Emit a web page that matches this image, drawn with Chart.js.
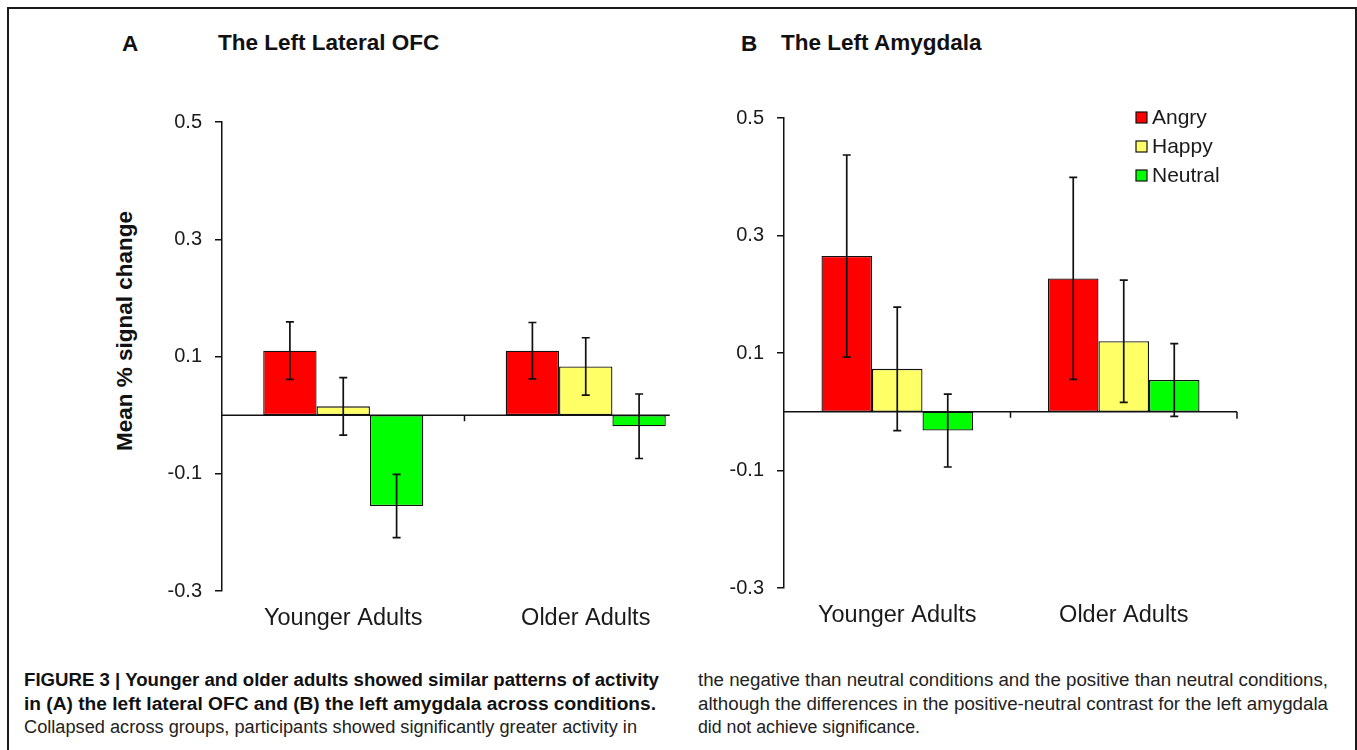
<!DOCTYPE html>
<html>
<head>
<meta charset="utf-8">
<script src="https://cdn.jsdelivr.net/npm/chart.js@4.4.1/dist/chart.umd.min.js"></script>
<style>
  html, body { margin: 0; padding: 0; background: #fff; overflow: hidden; }
  body { width: 1357px; height: 750px; position: relative; font-family: 'Liberation Sans', Arial, sans-serif; }
  .frame { position: absolute; left: 7px; top: 7px; width: 1346px; height: 800px; border: 2.5px solid #1a1a1a; }
  .abs { position: absolute; white-space: nowrap; }
  .panel-title { font-weight: bold; font-size: 22.5px; line-height: 24px; color: #111; }
  .ytitle { font-weight: bold; font-size: 22.5px; line-height: 24px; color: #111; transform: translate(-50%, -50%) rotate(-90deg); }
  .cap { font-family: 'Liberation Sans Narrow', 'Arial Narrow', 'Liberation Sans', Arial, sans-serif; font-size: 18px; line-height: 22px; color: #222; transform-origin: 0 50%; }
  .cap.b { font-weight: bold; color: #111; }
  canvas { position: absolute; }
</style>
</head>
<body>
<div class="frame"></div>

<div class="abs panel-title" style="left:122px; top:32px;">A</div>
<div class="abs panel-title" style="left:218px; top:31px;">The Left Lateral OFC</div>
<div class="abs panel-title" style="left:741px; top:32px;">B</div>
<div class="abs panel-title" style="left:781px; top:31px;">The Left Amygdala</div>
<div class="abs ytitle" style="left:125px; top:331px;">Mean % signal change</div>

<canvas id="chartA" width="620" height="568" style="left:100px; top:92px;"></canvas>
<canvas id="chartB" width="600" height="568" style="left:664px; top:88px;"></canvas>

<div class="abs cap b" data-w="635" style="left:24px; top:669px;">FIGURE 3 | Younger and older adults showed similar patterns of activity</div>
<div class="abs cap b" data-w="632" style="left:24px; top:693px;">in (A) the left lateral OFC and (B) the left amygdala across conditions.</div>
<div class="abs cap" data-w="613" style="left:24px; top:716px;">Collapsed across groups, participants showed significantly greater activity in</div>
<div class="abs cap" data-w="630" style="left:698px; top:669px;">the negative than neutral conditions and the positive than neutral conditions,</div>
<div class="abs cap" data-w="630" style="left:698px; top:693px;">although the differences in the positive-neutral contrast for the left amygdala</div>
<div class="abs cap" data-w="222" style="left:698px; top:716px;">did not achieve significance.</div>

<script>
// categories and conditions
const groups = ['Younger Adults', 'Older Adults'];
const conditions = ['Angry', 'Happy', 'Neutral'];
const condColors = ['#ff0000', '#ffff66', '#00ff00'];
const yTicks = [-0.3, -0.1, 0.1, 0.3, 0.5];

// (A) left lateral OFC, mean % signal change and error
const ofcAngry = [0.110, 0.110];
const ofcHappy = [0.015, 0.083];
const ofcNeutral = [-0.155, -0.019];
const ofcAngryErr = [0.049, 0.048];
const ofcHappyErr = [0.049, 0.049];
const ofcNeutralErr = [0.054, 0.055];

// (B) left amygdala
const amyAngry = [0.265, 0.227];
const amyHappy = [0.073, 0.120];
const amyNeutral = [-0.032, 0.054];
const amyAngryErr = [0.172, 0.172];
const amyHappyErr = [0.105, 0.104];
const amyNeutralErr = [0.062, 0.062];

const FONT = "'Liberation Sans', Arial, sans-serif";
Chart.defaults.font.family = FONT;
Chart.defaults.color = '#1a1a1a';

// error bars with small caps
const errorBars = {
  id: 'errorBars',
  afterDatasetsDraw(chart) {
    const ctx = chart.ctx;
    const y = chart.scales.y;
    ctx.save();
    ctx.strokeStyle = '#111';
    ctx.lineWidth = 1.7;
    chart.data.datasets.forEach((ds, i) => {
      chart.getDatasetMeta(i).data.forEach((bar, j) => {
        const top = y.getPixelForValue(ds.data[j] + ds.errors[j]);
        const bot = y.getPixelForValue(ds.data[j] - ds.errors[j]);
        ctx.beginPath();
        ctx.moveTo(bar.x, top); ctx.lineTo(bar.x, bot);
        ctx.moveTo(bar.x - 4, top); ctx.lineTo(bar.x + 4, top);
        ctx.moveTo(bar.x - 4, bot); ctx.lineTo(bar.x + 4, bot);
        ctx.stroke();
      });
    });
    ctx.restore();
  }
};

// category axis drawn at zero, like the Excel original
const zeroAxis = {
  id: 'zeroAxis',
  beforeDatasetsDraw(chart, args, opts) {
    const { ctx, chartArea, scales: { x, y } } = chart;
    const y0 = y.getPixelForValue(0);
    let right = chartArea.right;
    if (opts.trimToBars) {
      const meta = chart.getDatasetMeta(chart.data.datasets.length - 1);
      const last = meta.data[meta.data.length - 1];
      right = last.x + last.width / 2 + 4;
    }
    ctx.save();
    ctx.strokeStyle = '#111';
    ctx.lineWidth = 1.5;
    ctx.beginPath();
    ctx.moveTo(chartArea.left, y0);
    ctx.lineTo(right, y0);
    for (let i = 1; i < x.ticks.length; i++) {
      const xp = (x.getPixelForTick(i - 1) + x.getPixelForTick(i)) / 2;
      ctx.moveTo(xp, y0);
      ctx.lineTo(xp, y0 + 6);
    }
    if (opts.endTick) {
      ctx.moveTo(right, y0);
      ctx.lineTo(right, y0 + 7);
    }
    ctx.stroke();
    ctx.restore();
  }
};

// small boxed legend inside plot (panel B only)
const boxLegend = {
  id: 'boxLegend',
  afterDraw(chart, args, opts) {
    if (!opts.show) return;
    const { ctx, chartArea } = chart;
    const x0 = chartArea.right - opts.fromRight;
    ctx.save();
    ctx.font = '21px ' + FONT;
    ctx.textBaseline = 'middle';
    chart.data.datasets.forEach((ds, i) => {
      const cy = chartArea.top + opts.firstRow + i * opts.rowGap;
      ctx.fillStyle = ds.backgroundColor;
      ctx.fillRect(x0, cy - 5.5, 11, 11);
      ctx.strokeStyle = '#111';
      ctx.lineWidth = 1.2;
      ctx.strokeRect(x0, cy - 5.5, 11, 11);
      ctx.fillStyle = '#1a1a1a';
      ctx.fillText(ds.label, x0 + 16, cy + 1);
    });
    ctx.restore();
  }
};

function makeChart(id, series, errs, cfg) {
  const datasets = conditions.map((c, i) => ({
    label: c,
    data: series[i],
    errors: errs[i],
    backgroundColor: condColors[i],
    borderColor: '#111',
    borderWidth: 1.3,
    borderSkipped: false,
    categoryPercentage: cfg.catPct,
    barPercentage: 1.0
  }));
  return new Chart(document.getElementById(id), {
    type: 'bar',
    data: { labels: groups, datasets },
    plugins: [zeroAxis, errorBars, boxLegend],
    options: {
      responsive: false,
      animation: false,
      layout: { padding: { top: 30, right: cfg.padRight, left: 0, bottom: 0 } },
      plugins: {
        legend: { display: false },
        tooltip: { enabled: false },
        zeroAxis: { trimToBars: cfg.trim, endTick: cfg.endTick },
        boxLegend: { show: cfg.legend, fromRight: 101, firstRow: -0.5, rowGap: 29 }
      },
      scales: {
        x: {
          grid: { display: false, drawTicks: false },
          border: { display: false },
          ticks: { font: { size: 23.5 }, padding: 13, maxRotation: 0, color: '#1a1a1a' },
          afterFit: s => { s.height = cfg.xHeight; }
        },
        y: {
          min: -0.3,
          max: 0.5,
          afterBuildTicks: s => { s.ticks = yTicks.map(v => ({ value: v })); },
          afterFit: s => { s.width = cfg.yWidth; },
          border: { display: true, color: '#111', width: 1.5 },
          grid: { drawOnChartArea: false, drawTicks: true, tickLength: 7, color: '#111', lineWidth: 1.5 },
          ticks: { font: { size: 20 }, padding: 13, color: '#1a1a1a', callback: v => Number(v).toFixed(1) }
        }
      }
    }
  });
}

makeChart('chartA',
  [ofcAngry, ofcHappy, ofcNeutral],
  [ofcAngryErr, ofcHappyErr, ofcNeutralErr],
  { catPct: 0.66, padRight: 13, yWidth: 122, xHeight: 69, trim: true, endTick: false, legend: false });

makeChart('chartB',
  [amyAngry, amyHappy, amyNeutral],
  [amyAngryErr, amyHappyErr, amyNeutralErr],
  { catPct: 0.669, padRight: 27, yWidth: 120, xHeight: 68, trim: false, endTick: true, legend: true });

// fit caption lines to the column width
document.querySelectorAll('.cap').forEach(el => {
  const w = el.getBoundingClientRect().width;
  const target = Number(el.dataset.w);
  if (w > 0) el.style.transform = 'scaleX(' + (target / w).toFixed(4) + ')';
});
</script>
</body>
</html>
